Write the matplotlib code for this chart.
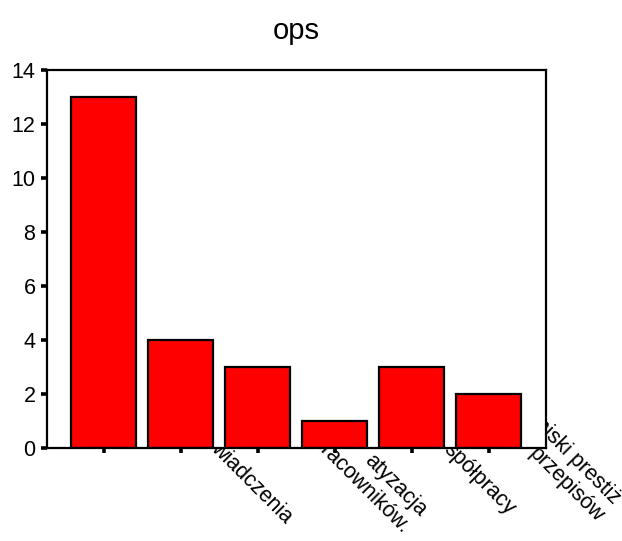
import matplotlib
matplotlib.use("Agg")
import matplotlib.pyplot as plt
import numpy as np

plt.rcParams["font.family"] = ["Liberation Sans", "DejaVu Sans"]

# values
categories = ["", "wiadczenia", "", "atyzacja\npracowników.", "spółpracy", "niski prestiż\nprzepisów"]
counts = [13, 4, 3, 1, 3, 2]
y_ticks = [0, 2, 4, 6, 8, 10, 12, 14]
title = "ops"

# label end points, pixels from (tick, x-axis) -- the labels run behind the plot area
label_offset = [(0, 0), (108, 72), (0, 0), (80, 74), (100, 64), (120, 62)]

fig = plt.figure(figsize=(6.22, 5.41), dpi=100)

# background layer for the category labels, the plot area hides their start
ax_bg = fig.add_axes([0, 0, 1, 1], zorder=0)
ax_bg.set_axis_off()
ax_bg.patch.set_alpha(0)

ax = fig.add_axes([0.0748, 0.1719, 0.803, 0.6987], zorder=1)
ax.set_facecolor("white")

x = np.arange(len(counts))
ax.bar(x, counts, width=0.845, color="#ff0000", edgecolor="black", linewidth=1.6)

ax.set_xlim(-0.745, len(counts) - 1 + 0.745)
ax.set_ylim(0, 14)
ax.set_yticks(y_ticks)
ax.set_xticks(x)
ax.set_xticklabels([""] * len(x))

for s in ax.spines.values():
    s.set_linewidth(1.6)

ax.tick_params(axis="y", direction="out", length=4, width=2.6, labelsize=15.5, pad=4)
ax.tick_params(axis="x", direction="out", length=3.5, width=2.6)

ax.set_title(title, fontsize=21, pad=22)

for i, lab in enumerate(categories):
    if not lab:
        continue
    dx, dy = label_offset[i]
    ax_bg.annotate(
        lab,
        xy=(x[i], 0),
        xycoords=ax.get_xaxis_transform(),
        xytext=(dx, -dy),
        textcoords="offset pixels",
        rotation=-45,
        rotation_mode="anchor",
        ha="right",
        va="center",
        multialignment="right",
        fontsize=15.5,
        annotation_clip=False,
    )

fig.savefig("out.png", dpi=100)
